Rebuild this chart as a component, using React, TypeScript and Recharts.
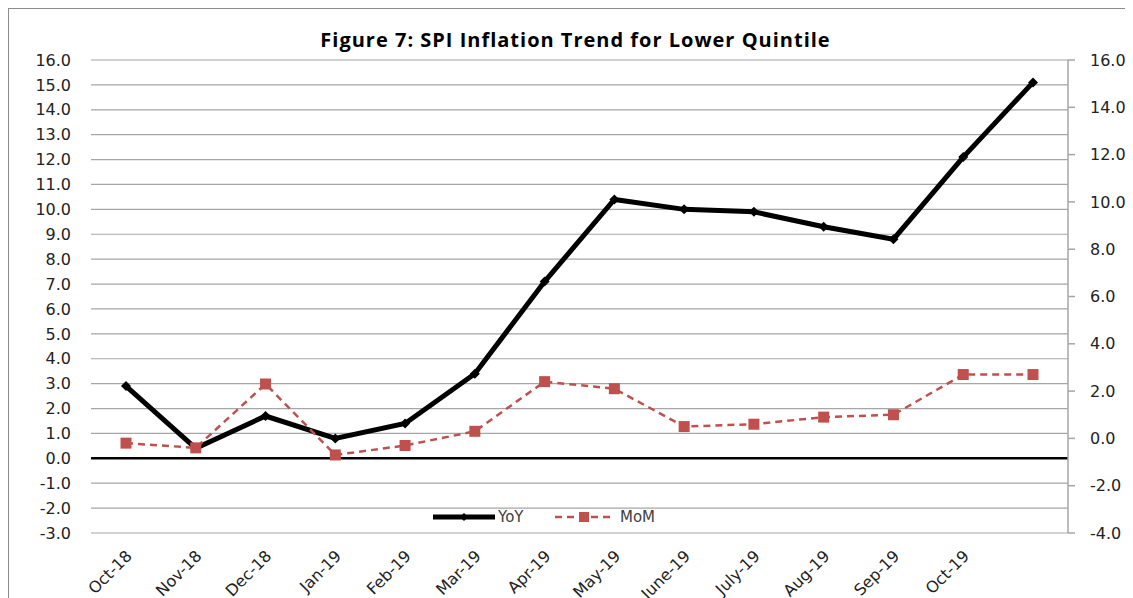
import React from 'react';
import { LineChart, Line, XAxis, YAxis, CartesianGrid, ReferenceLine, Legend } from 'recharts';

const months = [
  'Oct-18', 'Nov-18', 'Dec-18', 'Jan-19', 'Feb-19', 'Mar-19', 'Apr-19',
  'May-19', 'June-19', 'July-19', 'Aug-19', 'Sep-19', 'Oct-19', '',
];
const yoy = [2.9, 0.4, 1.7, 0.8, 1.4, 3.4, 7.1, 10.4, 10.0, 9.9, 9.3, 8.8, 12.1, 15.1];
const mom = [-0.2, -0.4, 2.3, -0.7, -0.3, 0.3, 2.4, 2.1, 0.5, 0.6, 0.9, 1.0, 2.7, 2.7];
const leftTicks = [-3, -2, -1, 0, 1, 2, 3, 4, 5, 6, 7, 8, 9, 10, 11, 12, 13, 14, 15, 16];
const rightTicks = [-4, -2, 0, 2, 4, 6, 8, 10, 12, 14, 16];

const RED = '#C0504D';
const FONT = '"DejaVu Sans", Verdana, sans-serif';

const data = months.map((m, i) => ({ month: m, YoY: yoy[i], MoM: mom[i] }));

const Diamond = (props: any) => {
  const { cx, cy } = props;
  if (cx == null || cy == null) return null;
  const s = 5;
  return <polygon points={`${cx},${cy - s} ${cx + s},${cy} ${cx},${cy + s} ${cx - s},${cy}`} fill="#000" />;
};

const Square = (props: any) => {
  const { cx, cy } = props;
  if (cx == null || cy == null) return null;
  return <rect x={cx - 5.5} y={cy - 5.5} width={11} height={11} fill={RED} />;
};

const MonthTick = (props: any) => {
  const { x, y, payload } = props;
  const tx = x + 7;
  const ty = y + 16;
  return (
    <text x={tx} y={ty} textAnchor="end" fontSize={16} fill="#222" fontFamily={FONT}
      transform={`rotate(-45, ${tx}, ${ty})`}>
      {payload.value}
    </text>
  );
};

const LegendBox = () => (
  <svg width={300} height={20}>
    <line x1={4} y1={10} x2={66} y2={10} stroke="#000" strokeWidth={5} />
    <polygon points="35,6 39,10 35,14 31,10" fill="#000" />
    <text x={69} y={15} fontSize={15} fill="#404040" fontFamily={FONT}>YoY</text>
    <line x1={126} y1={10} x2={184} y2={10} stroke={RED} strokeWidth={2.5} strokeDasharray="7 5" />
    <rect x={150} y={5} width={10} height={10} fill={RED} />
    <text x={191} y={15} fontSize={15} fill="#404040" fontFamily={FONT}>MoM</text>
  </svg>
);

export default function App() {
  return (
    <div style={{ position: 'relative', width: 1130, height: 600, border: '1px solid #8c8c8c', boxSizing: 'border-box', background: '#fff' }}>
      <div style={{ position: 'absolute', top: 17, left: 0, width: 1133, textAlign: 'center', fontFamily: '"Open Sans", sans-serif', fontWeight: 700, fontSize: 20, letterSpacing: 1, color: '#000' }}>
        Figure 7: SPI Inflation Trend for Lower Quintile
      </div>
      <LineChart width={1124} height={589} data={data} margin={{ top: 51, right: 0, bottom: 0, left: 0 }}>
        <CartesianGrid yAxisId="left" vertical={false} stroke="#a6a6a6" strokeWidth={1.2} />
        <XAxis dataKey="month" height={65} axisLine={false} tickLine={false} interval={0}
          padding={{ left: 35, right: 35 }} tick={<MonthTick />} />
        <YAxis yAxisId="left" orientation="left" width={82} domain={[-3, 16]} ticks={leftTicks} interval={0}
          axisLine={false} tickLine={false} tickSize={0} tickMargin={20}
          tickFormatter={(v: number) => v.toFixed(1)}
          tick={{ fontSize: 16, fill: '#222', fontFamily: FONT }} />
        <YAxis yAxisId="right" orientation="right" width={65} domain={[-4, 16]} ticks={rightTicks} interval={0}
          axisLine={{ stroke: '#a6a6a6', strokeWidth: 1.5 }} tickLine={{ stroke: '#a6a6a6', strokeWidth: 1.5 }}
          tickSize={7} tickMargin={15}
          tickFormatter={(v: number) => v.toFixed(1)}
          tick={{ fontSize: 16, fill: '#222', fontFamily: FONT, textAnchor: 'start' }} />
        <ReferenceLine yAxisId="left" y={0} stroke="#000" strokeWidth={2.5} />
        <Legend layout="horizontal" verticalAlign="middle" align="center" content={<LegendBox />}
          wrapperStyle={{ position: 'absolute', top: 498, left: 420, width: 300, height: 20 }} />
        <Line yAxisId="left" type="linear" dataKey="YoY" stroke="#000" strokeWidth={5} dot={<Diamond />}
          activeDot={false} isAnimationActive={false} />
        <Line yAxisId="right" type="linear" dataKey="MoM" stroke={RED} strokeWidth={2.5} strokeDasharray="7 5"
          dot={<Square />} activeDot={false} isAnimationActive={false} />
      </LineChart>
    </div>
  );
}
